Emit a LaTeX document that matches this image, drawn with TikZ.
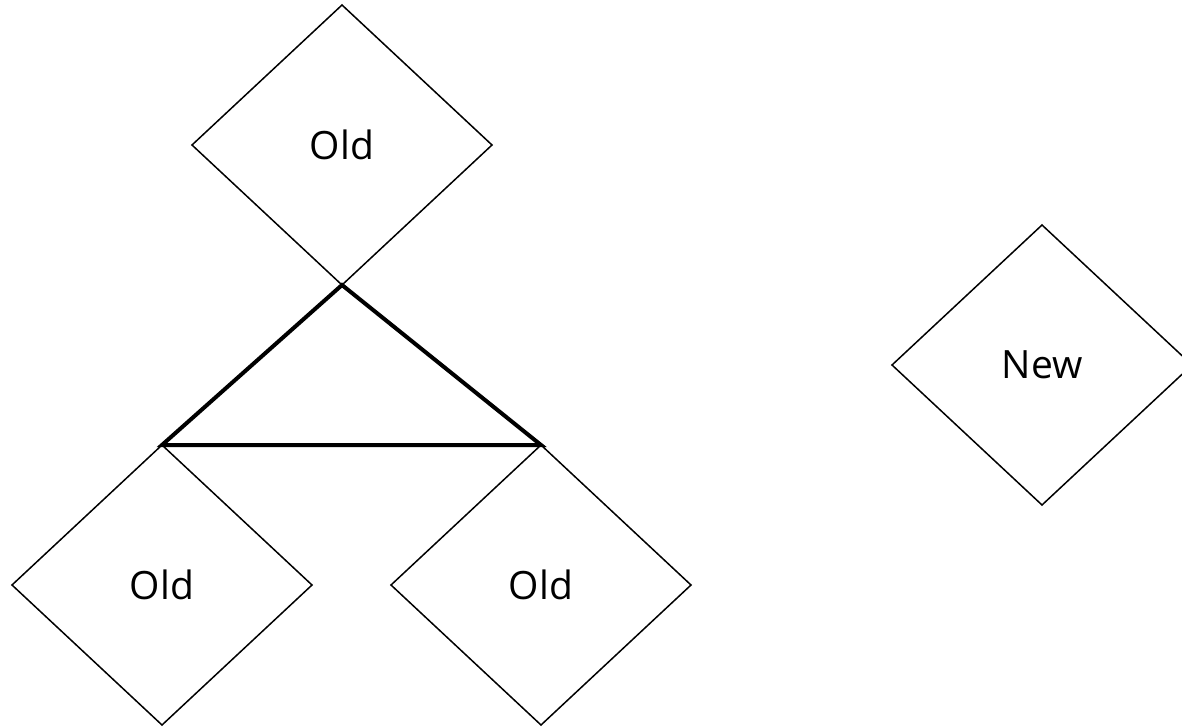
\documentclass[tikz,border=0pt]{standalone}
\usepackage{fontspec}
\setmainfont{Open Sans}
\usetikzlibrary{shapes.geometric}
\tikzset{
  dia/.style={shape=diamond, draw=black, line width=1.5pt, minimum width=300pt, minimum height=280pt, inner sep=0pt, outer sep=0pt, font=\fontsize{39}{47}\selectfont},
  tri/.style={draw=black, line width=4pt, line join=miter}
}
\begin{document}
\begin{tikzpicture}[x=1pt,y=-1pt]
\clip (0,0) rectangle (1182,727);
\fill[white] (0,0) rectangle (1182,727);
\node[dia] (top) at (342,145) {Old};
\node[dia] (new) at (1042,365) {New};
\node[dia] (bl) at (162,585) {Old};
\node[dia] (br) at (541,585) {Old};
\draw[tri] (top.south) -- (bl.north) -- (br.north) -- cycle;
\end{tikzpicture}
\end{document}
